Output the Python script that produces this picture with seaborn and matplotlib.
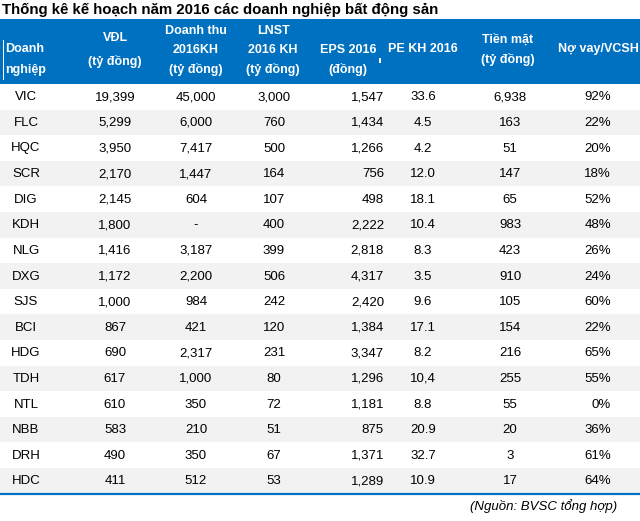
import numpy as np
import matplotlib
matplotlib.use('Agg')
import matplotlib.pyplot as plt
import seaborn as sns
from matplotlib.colors import ListedColormap
from matplotlib.patches import Rectangle

# table data
tickers = ['VIC', 'FLC', 'HQC', 'SCR', 'DIG', 'KDH', 'NLG', 'DXG',
           'SJS', 'BCI', 'HDG', 'TDH', 'NTL', 'NBB', 'DRH', 'HDC']
vdl = [19399, 5299, 3950, 2170, 2145, 1800, 1416, 1172,
       1000, 867, 690, 617, 610, 583, 490, 411]
doanh_thu = [45000, 6000, 7417, 1447, 604, None, 3187, 2200,
             984, 421, 2317, 1000, 350, 210, 350, 512]
lnst = [3000, 760, 500, 164, 107, 400, 399, 506,
        242, 120, 231, 80, 72, 51, 67, 53]
eps = [1547, 1434, 1266, 756, 498, 2222, 2818, 4317,
       2420, 1384, 3347, 1296, 1181, 875, 1371, 1289]
pe = ['33.6', '4.5', '4.2', '12.0', '18.1', '10.4', '8.3', '3.5',
      '9.6', '17.1', '8.2', '10,4', '8.8', '20.9', '32.7', '10.9']
tien_mat = [6938, 163, 51, 147, 65, 983, 423, 910,
            105, 154, 216, 255, 55, 20, 3, 17]
no_vay = [92, 22, 20, 18, 52, 48, 26, 24, 60, 22, 65, 55, 0, 36, 61, 64]

title = 'Thống kê kế hoạch năm 2016 các doanh nghiệp bất động sản'
source = '(Nguồn: BVSC tổng hợp)'

BLUE = '#0070C0'
GRAY = '#F2F2F2'
W, H = 640, 521
TOP, ROW_H = 84, 25.6

sns.set_theme(style='white')
plt.rcParams['font.family'] = ['Liberation Sans', 'DejaVu Sans']

fig = plt.figure(figsize=(6.4, 5.21), dpi=100)

# striped body drawn as a heatmap of row parity
n = len(tickers)
bottom = TOP + n * ROW_H
ax_body = fig.add_axes([0, (H - bottom) / H, 1, n * ROW_H / H])
stripes = np.array([[i % 2] for i in range(n)])
sns.heatmap(stripes, ax=ax_body, cmap=ListedColormap(['white', GRAY]),
            vmin=0, vmax=1, cbar=False, xticklabels=False, yticklabels=False)
ax_body.axis('off')

# overlay in pixel coordinates
ax = fig.add_axes([0, 0, 1, 1], facecolor='none')
ax.set_xlim(0, W)
ax.set_ylim(H, 0)
ax.axis('off')

ax.text(2, 10, title, fontsize=10.8, fontweight='bold', color='black',
        ha='left', va='center')

ax.add_patch(Rectangle((0, 19), W, TOP - 19, color=BLUE, lw=0))
ax.add_patch(Rectangle((2.5, 40), 1.2, 40, color='white', lw=0))
ax.add_patch(Rectangle((378.5, 58), 2, 5, color='white', lw=0))

hdr = dict(color='white', fontsize=9, fontweight='bold', va='center')
ax.text(5, 49, 'Doanh', ha='left', **hdr)
ax.text(5, 70, 'nghiệp', ha='left', **hdr)
headers = [
    (115, ['VĐL', '(tỷ đồng)'], [38, 61]),
    (196, ['Doanh thu', '2016KH', '(tỷ đồng)'], [31, 50, 69]),
    (273, ['LNST', '2016 KH', '(tỷ đồng)'], [31, 50, 69]),
    (348, ['EPS 2016', '(đồng)'], [50, 69]),
    (423, ['PE KH 2016'], [49]),
    (508, ['Tiền mặt', '(tỷ đồng)'], [40, 60]),
    (598, ['Nợ vay/VCSH'], [49]),
]
for x, lines, ys in headers:
    for s, y in zip(lines, ys):
        ax.text(x, y, s, ha='center', **hdr)

body = dict(color='black', fontsize=9.5, va='center')
for i in range(n):
    y = TOP + ROW_H * (i + 0.5) + 0.5
    ax.text(26, y, tickers[i], ha='center', **body)
    ax.text(115, y, f'{vdl[i]:,}', ha='center', **body)
    dt = '-' if doanh_thu[i] is None else f'{doanh_thu[i]:,}'
    ax.text(196, y, dt, ha='center', **body)
    ax.text(274, y, f'{lnst[i]:,}', ha='center', **body)
    ax.text(384, y, f'{eps[i]:,}', ha='right', **body)
    ax.text(423, y, pe[i], ha='center', **body)
    ax.text(510, y, f'{tien_mat[i]:,}', ha='center', **body)
    ax.text(611, y, f'{no_vay[i]}%', ha='right', **body)

ax.plot([0, W], [bottom, bottom], color=BLUE, lw=1.6)

ax.text(617, 506, source, fontsize=9.5, style='italic', color='black',
        ha='right', va='center')

fig.savefig('out.png', dpi=100)
